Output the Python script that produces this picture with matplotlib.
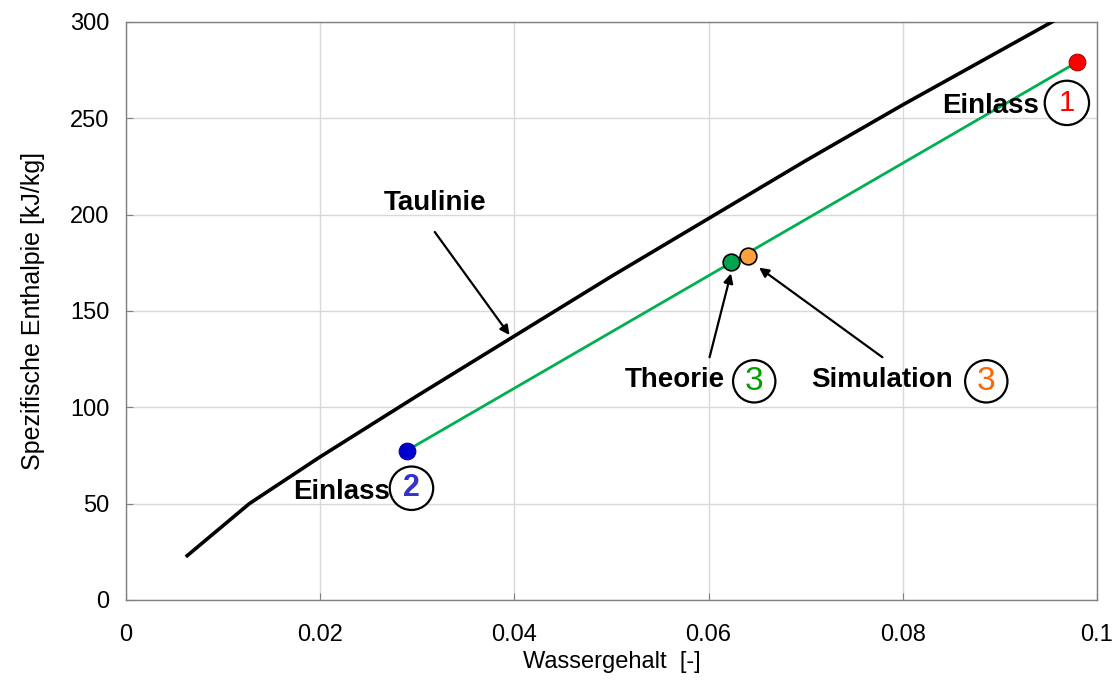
import matplotlib
matplotlib.use("Agg")
import matplotlib.pyplot as plt

plt.rcParams["font.family"] = ["Liberation Sans", "DejaVu Sans"]

# Taulinie (dew line)
tau_x = [0.0063, 0.0127, 0.0199, 0.030, 0.040, 0.050, 0.060, 0.070, 0.080, 0.090, 0.100]
tau_h = [23, 50, 74, 106, 137, 168, 198, 228, 257, 285, 313]

# process line Einlass 2 -> Einlass 1
proc_x = [0.0289, 0.0979]
proc_h = [77.5, 279]

# state points
ein1_x, ein1_h = 0.0979, 279
ein2_x, ein2_h = 0.0289, 77.5
theo_x, theo_h = 0.0623, 175.5
sim_x, sim_h = 0.0641, 178.5

x_ticks = [0, 0.02, 0.04, 0.06, 0.08, 0.1]
x_labels = ["0", "0.02", "0.04", "0.06", "0.08", "0.1"]
y_ticks = [0, 50, 100, 150, 200, 250, 300]

fig = plt.figure(figsize=(11.18, 6.93), dpi=100)
ax = fig.add_axes([0.1127, 0.1342, 0.8685, 0.8341])

ax.plot(tau_x, tau_h, color="black", lw=2.6, zorder=3)
ax.plot(proc_x, proc_h, color="#00B050", lw=2.0, zorder=3)

ax.plot(ein2_x, ein2_h, "o", ms=12, mfc="#0000CC", mec="#000099", mew=0.8, zorder=5)
ax.plot(ein1_x, ein1_h, "o", ms=12, mfc="#FF0000", mec="#B00000", mew=0.8, zorder=5)
ax.plot(theo_x, theo_h, "o", ms=12, mfc="#00A550", mec="black", mew=1.2, zorder=5)
ax.plot(sim_x, sim_h, "o", ms=12, mfc="#FFA040", mec="black", mew=1.2, zorder=5)

ax.set_xlim(0, 0.1)
ax.set_ylim(0, 300)
ax.set_xticks(x_ticks, labels=x_labels)
ax.set_yticks(y_ticks)
ax.grid(True, color="#D9D9D9", lw=1.0)
ax.set_axisbelow(True)
ax.tick_params(direction="in", length=5, color="#808080", labelsize=17)
ax.tick_params(axis="x", pad=17)
ax.tick_params(axis="y", pad=12)
for s in ax.spines.values():
    s.set_color("#808080")
    s.set_linewidth(1.0)

ax.set_xlabel("Wassergehalt  [-]", fontsize=17, labelpad=4)
ax.set_ylabel("Spezifische Enthalpie [kJ/kg]", fontsize=18, labelpad=18)

arrow = dict(arrowstyle="-|>", color="black", lw=1.6, mutation_scale=14, shrinkA=0, shrinkB=0)
ax.annotate("", xy=(0.0395, 137.5), xytext=(0.0318, 191), arrowprops=arrow, zorder=6)
ax.annotate("", xy=(0.0623, 169.5), xytext=(0.0601, 126), arrowprops=arrow, zorder=6)
ax.annotate("", xy=(0.0652, 172.5), xytext=(0.0779, 126), arrowprops=arrow, zorder=6)

bold = dict(fontsize=20, fontweight="bold", ha="center", va="center", zorder=7)
ax.text(0.0318, 206, "Taulinie", **bold)
ax.text(0.0222, 56, "Einlass", **bold)
ax.text(0.0565, 114, "Theorie", **bold)
ax.text(0.0779, 114, "Simulation", **bold)
ax.text(0.0890, 256.5, "Einlass", **bold)

def circled(x, y, digit, color, size, weight, pad):
    ax.text(x, y, digit, fontsize=size, fontweight=weight, color=color,
            ha="center", va="center", zorder=7,
            bbox=dict(boxstyle=f"circle,pad={pad}", fc="white", ec="black", lw=1.6))

circled(0.0294, 58, "2", "#3333CC", 22, "bold", 0.22)
circled(0.0647, 113.5, "3", "#00A000", 24, "normal", 0.17)
circled(0.0886, 113.5, "3", "#FF6600", 24, "normal", 0.17)
circled(0.0969, 258, "1", "#FF0000", 21, "normal", 0.28)

fig.savefig("out.png", dpi=100)
